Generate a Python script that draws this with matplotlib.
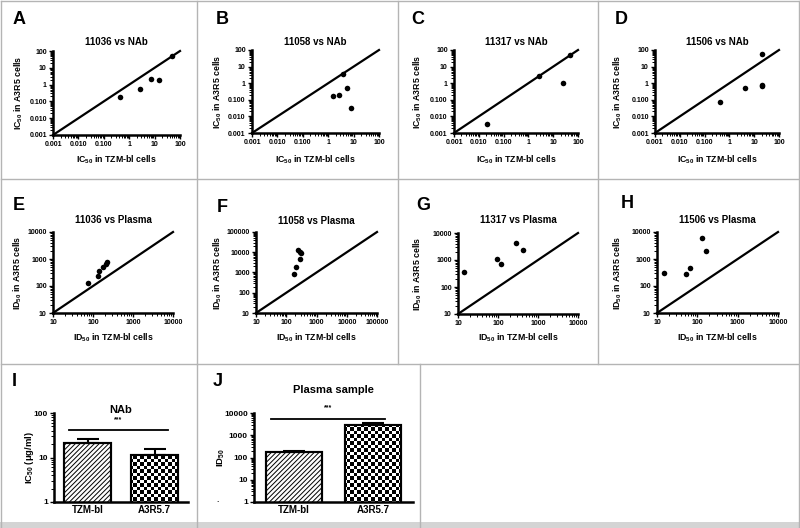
import numpy as np
import matplotlib
matplotlib.use('Agg')
from matplotlib import pyplot as plt
from matplotlib.ticker import LogLocator, NullFormatter, FixedLocator, FixedFormatter
from matplotlib.image import AxesImage

plt.rcParams['font.family'] = ['Liberation Sans', 'DejaVu Sans']
plt.rcParams['font.weight'] = 'bold'
plt.rcParams['mathtext.default'] = 'regular'
plt.rcParams['hatch.linewidth'] = 0.7

W, H = 800, 528

# NAb IC50 values, TZM-bl (x) vs A3R5 (y)
a_tzm = [0.44, 2.7, 7.3, 15.5, 47]
a_a3r5 = [0.18, 0.55, 2.3, 2.0, 50]
b_tzm = [1.55, 2.7, 3.8, 5.6, 8.1]
b_a3r5 = [0.17, 0.2, 3.4, 0.48, 0.032]
c_tzm = [0.022, 2.7, 25, 49]
c_a3r5 = [0.0035, 2.6, 1.0, 53]
d_tzm = [0.42, 4.4, 20, 21, 21]
d_a3r5 = [0.076, 0.5, 0.66, 0.83, 55]

# plasma ID50 values, TZM-bl (x) vs A3R5 (y)
e_tzm = [73, 135, 138, 180, 210, 225]
e_a3r5 = [125, 240, 350, 500, 650, 760]
f_tzm = [175, 210, 245, 290, 305, 285]
f_a3r5 = [835, 1780, 12600, 10500, 8700, 4400]
g_tzm = [14, 95, 120, 275, 415]
g_a3r5 = [350, 1050, 710, 4200, 2350]
h_tzm = [15, 53, 65, 133, 162]
h_a3r5 = [316, 275, 460, 6100, 2000]

nab_ticks = [0.001, 0.01, 0.1, 1, 10, 100]
nab_ticklabels = ['0.001', '0.010', '0.100', '1', '10', '100']
plasma_ticks = [10, 100, 1000, 10000]
plasma_ticklabels = ['10', '100', '1000', '10000']
plasma_ticks_f = [10, 100, 1000, 10000, 100000]
plasma_ticklabels_f = ['10', '100', '1000', '10000', '100000']

# summary bars
cell_types = ['TZM-bl', 'A3R5.7']
nab_mean = [21, 11.2]
nab_err = [5, 4]
plasma_mean = [178, 2760]
plasma_err = [17, 640]
nab_sig = 42
plasma_sig = 5500
nab_bar_ticks = [1, 10, 100]
plasma_bar_ticks = [1, 10, 100, 1000, 10000]

fig = plt.figure(figsize=(8, 5.28), dpi=100)
bg = fig.add_axes([0, 0, 1, 1], zorder=-5)
bg.set_xlim(0, W)
bg.set_ylim(H, 0)
bg.axis('off')


def px_axes(l, t, r, b):
    ax = fig.add_axes([l / W, 1 - b / H, (r - l) / W, (b - t) / H])
    ax.patch.set_alpha(0)
    for s in ['top', 'right']:
        ax.spines[s].set_visible(False)
    for s in ['left', 'bottom']:
        ax.spines[s].set_linewidth(1.8)
    return ax


def log_ticks(axis, ticks, labels):
    axis.set_major_locator(FixedLocator(ticks))
    axis.set_major_formatter(FixedFormatter(labels))
    axis.set_minor_locator(LogLocator(base=10, subs=np.arange(2, 10), numticks=30))
    axis.set_minor_formatter(NullFormatter())


def scatter_panel(box, xs, ys, ticks, labels, title, letter, letter_xy,
                  ylab_x, title_y, xlab_y, xlab, ylab):
    ax = px_axes(*box)
    ax.set_xscale('log')
    ax.set_yscale('log')
    lo, hi = ticks[0], ticks[-1]
    ax.plot([lo, hi], [lo, hi], color='black', lw=1.6, clip_on=False)
    ax.scatter(xs, ys, s=16, color='black', zorder=3, clip_on=False, linewidths=0)
    ax.set_xlim(lo, hi)
    ax.set_ylim(lo, hi)
    log_ticks(ax.xaxis, ticks, labels)
    log_ticks(ax.yaxis, ticks, labels)
    ax.tick_params(which='major', length=3, width=1, labelsize=5, pad=1.5)
    ax.tick_params(which='minor', length=2, width=0.7)
    cx = (box[0] + box[2]) / 2
    cy = (box[1] + box[3]) / 2
    bg.text(cx, title_y, title, ha='center', va='center', fontsize=7)
    bg.text(cx, xlab_y, xlab, ha='center', va='center', fontsize=6.3)
    bg.text(ylab_x, cy, ylab, ha='center', va='center', rotation=90, fontsize=6.3)
    bg.text(letter_xy[0], letter_xy[1], letter, ha='center', va='center', fontsize=13)
    return ax


ic_x = 'IC$_{50}$ in TZM-bl cells'
ic_y = 'IC$_{50}$ in A3R5 cells'
id_x = 'ID$_{50}$ in TZM-bl cells'
id_y = 'ID$_{50}$ in A3R5 cells'

scatter_panel((53, 51, 180, 135), a_tzm, a_a3r5, nab_ticks, nab_ticklabels,
              '11036 vs NAb', 'A', (19, 20), 19, 42, 160, ic_x, ic_y)
scatter_panel((252, 50, 379, 133), b_tzm, b_a3r5, nab_ticks, nab_ticklabels,
              '11058 vs NAb', 'B', (222, 20), 218, 42, 160, ic_x, ic_y)
scatter_panel((454, 50, 578, 133), c_tzm, c_a3r5, nab_ticks, nab_ticklabels,
              '11317 vs NAb', 'C', (418, 20), 418, 42, 160, ic_x, ic_y)
scatter_panel((655, 50, 779, 133), d_tzm, d_a3r5, nab_ticks, nab_ticklabels,
              '11506 vs NAb', 'D', (621, 20), 618, 42, 160, ic_x, ic_y)

scatter_panel((53, 232, 173, 313), e_tzm, e_a3r5, plasma_ticks, plasma_ticklabels,
              '11036 vs Plasma', 'E', (19, 205), 18, 220, 338, id_x, id_y)
scatter_panel((256, 232, 377, 313), f_tzm, f_a3r5, plasma_ticks_f, plasma_ticklabels_f,
              '11058 vs Plasma', 'F', (222, 207), 218, 221, 338, id_x, id_y)
scatter_panel((458, 233, 578, 314), g_tzm, g_a3r5, plasma_ticks, plasma_ticklabels,
              '11317 vs Plasma', 'G', (423, 205), 418, 220, 338, id_x, id_y)
scatter_panel((657, 232, 778, 313), h_tzm, h_a3r5, plasma_ticks, plasma_ticklabels,
              '11506 vs Plasma', 'H', (627, 203), 618, 220, 338, id_x, id_y)

# checkerboard at pixel level, used as fill of the A3R5.7 bars
yy, xx = np.indices((H, W))
board = ((yy * 2 // 7 + xx * 2 // 7) % 2).astype(float)


def bar_panel(box, means, errs, ticks, sig, sig_x, title, title_y, star_y,
              letter, letter_xy, ylab, ylab_x):
    ax = px_axes(*box)
    ax.set_yscale('log')
    x = np.arange(len(cell_types))
    bars = ax.bar(x, means, width=0.7, color='white', edgecolor='black',
                  linewidth=1.5, zorder=2)
    bars[0].set_hatch('///////')
    im = AxesImage(ax, cmap='gray', interpolation='nearest', extent=(0, 1, 0, 1),
                   transform=fig.transFigure, zorder=2.5)
    im.set_data(board)
    im.set_clim(0, 1)
    ax.add_image(im)
    # path + transform so the clip box stays the axes box
    im.set_clip_path(bars[1].get_path(), bars[1].get_transform())
    ax.bar(x, means, width=0.7, fill=False, edgecolor='black', linewidth=1.5, zorder=3)
    ax.errorbar(x, means, yerr=[np.zeros(len(x)), errs], fmt='none', ecolor='black',
                elinewidth=1.5, capsize=8, capthick=1.5, zorder=4)
    ax.plot(sig_x, [sig, sig], color='black', lw=1.3, clip_on=False)
    ax.set_xlim(-0.5, 1.5)
    ax.set_ylim(ticks[0], ticks[-1])
    log_ticks(ax.yaxis, ticks, [str(t) for t in ticks])
    ax.set_xticks(x, cell_types)
    ax.tick_params(axis='y', which='major', length=3, width=1, labelsize=6, pad=1.5)
    ax.tick_params(axis='y', which='minor', length=2, width=0.7)
    ax.tick_params(axis='x', length=0, labelsize=7, pad=2.5)
    cx = (box[0] + box[2]) / 2
    cy = (box[1] + box[3]) / 2
    star_x = box[0] + (np.mean(sig_x) + 0.5) / 2 * (box[2] - box[0])
    bg.text(cx, title_y, title, ha='center', va='center', fontsize=8)
    bg.text(star_x, star_y, '***', ha='center', va='center', fontsize=5)
    bg.text(ylab_x, cy, ylab, ha='center', va='center', rotation=90, fontsize=6.8)
    bg.text(letter_xy[0], letter_xy[1], letter, ha='center', va='center', fontsize=13)
    return ax


bar_panel((54, 413, 188, 502), nab_mean, nab_err, nab_bar_ticks, nab_sig, [-0.28, 1.2],
          'NAb', 410, 420, 'I', (14, 381), 'IC$_{50}$ (\u03bcg/ml)', 30)
bar_panel((254, 413, 413, 502), plasma_mean, plasma_err, plasma_bar_ticks, plasma_sig,
          [-0.29, 1.15], 'Plasma sample', 390, 408, 'J', (218, 382), 'ID$_{50}$', 221)

# stray dot in the original
bg.text(218, 500, '.', ha='center', va='center', fontsize=6)

# panel frame
gray = '#b4b4b4'
lines = [
    ([1, 799], [1, 1]), ([1, 1], [1, 527]), ([799, 799], [1, 527]),
    ([1, 799], [179, 179]), ([1, 799], [364, 364]),
    ([197, 197], [1, 364]), ([398, 398], [1, 364]), ([598, 598], [1, 364]),
    ([197, 197], [364, 527]), ([420, 420], [364, 527]),
]
for xs_, ys_ in lines:
    bg.plot(xs_, ys_, color=gray, lw=1)
bg.fill_between([0, 800], 522, 528, color='#d4d4d4', lw=0)

fig.savefig('out.png', dpi=100)
